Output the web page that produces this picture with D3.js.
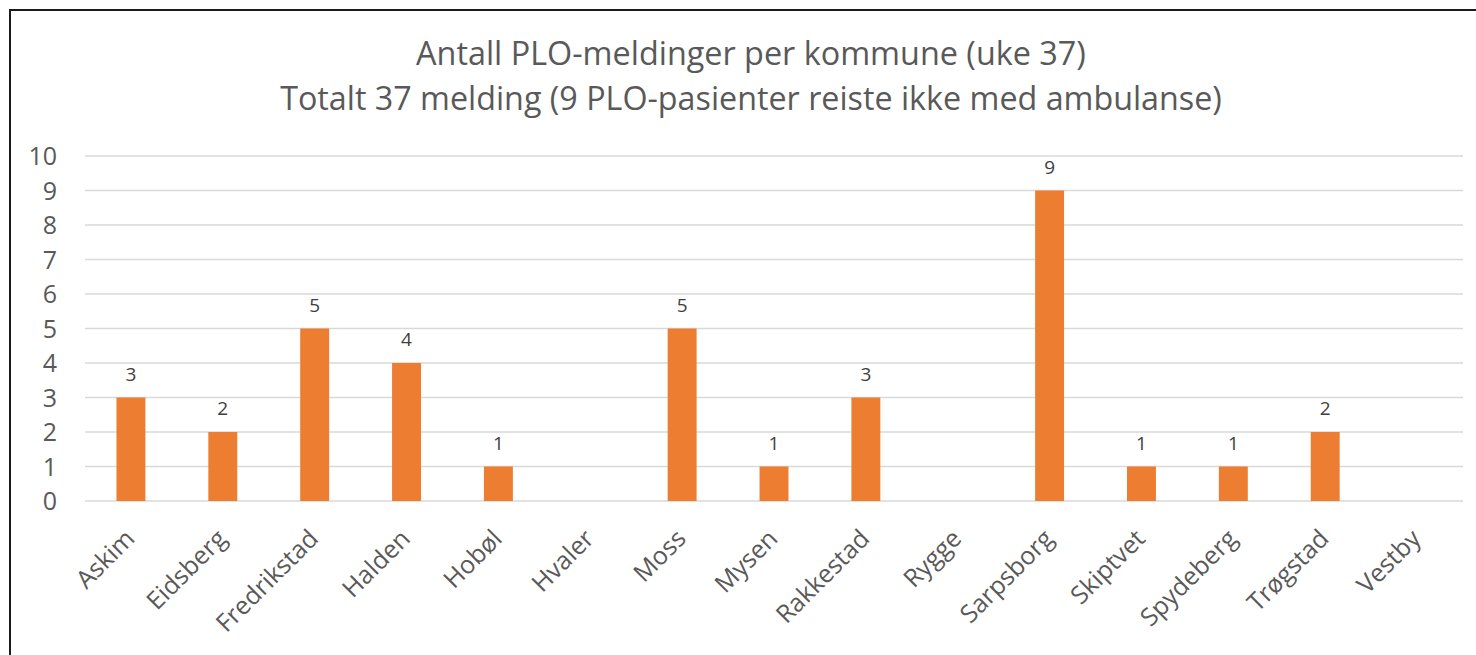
<!DOCTYPE html>
<html>
<head>
<meta charset="utf-8">
<script src="https://cdn.jsdelivr.net/npm/d3@7"></script>
<style>
  html, body { margin: 0; padding: 0; background: #fff; }
  svg { display: block; }
  text { font-family: "Open Sans", "Noto Sans", sans-serif; }
</style>
</head>
<body>
<svg id="chart" width="1476" height="655"></svg>
<script>
const categories = ["Askim","Eidsberg","Fredrikstad","Halden","Hobøl","Hvaler","Moss","Mysen","Rakkestad","Rygge","Sarpsborg","Skiptvet","Spydeberg","Trøgstad","Vestby"];
const values = [3,2,5,4,1,null,5,1,3,null,9,1,1,2,null];
const yTicks = [0,1,2,3,4,5,6,7,8,9,10];
const titleLines = ["Antall PLO-meldinger per kommune (uke 37)", "Totalt 37 melding (9 PLO-pasienter reiste ikke med ambulanse)"];

const svg = d3.select("#chart");

// chart frame (top and left edges visible)
svg.append("rect").attr("x", 10).attr("y", 10).attr("width", 1480).attr("height", 660)
  .attr("fill", "#fff").attr("stroke", "#1a1a1a").attr("stroke-width", 2);

const plotLeft = 85, plotRight = 1463, plotTop = 156, plotBottom = 501;

const x = d3.scaleBand().domain(categories).range([plotLeft, plotRight])
  .paddingInner(0.685).paddingOuter(0.3425);
const y = d3.scaleLinear().domain([0, 10]).range([plotBottom, plotTop]);

// title
const titleY = [65, 110];
const titleW = [670, 942];
titleLines.forEach((t, i) => {
  const el = svg.append("text").attr("x", 751).attr("y", titleY[i])
    .attr("text-anchor", "middle").attr("fill", "#595959")
    .style("font-size", "28px").text(t);
  const w = el.node().getComputedTextLength();
  el.style("font-size", (28 * titleW[i] / w).toFixed(2) + "px");
});

// gridlines
svg.append("g").selectAll("line").data(yTicks).join("line")
  .attr("x1", plotLeft).attr("x2", plotRight)
  .attr("y1", d => y(d)).attr("y2", d => y(d))
  .attr("stroke", "#d9d9d9").attr("stroke-width", 1.5);

// y axis labels
const yAxis = d3.axisLeft(y).tickValues(yTicks).tickSize(0).tickPadding(0).tickFormat(d3.format("d"));
const gy = svg.append("g").attr("transform", `translate(57,0)`).call(yAxis);
gy.select(".domain").remove();
gy.selectAll("text").attr("fill", "#595959").style("font-size", "25px")
  .style("font-family", '"Open Sans", sans-serif').attr("dy", "0.35em");

// bars
const data = categories.map((c, i) => ({c, v: values[i]}));
svg.append("g").selectAll("rect").data(data.filter(d => d.v != null)).join("rect")
  .attr("x", d => x(d.c)).attr("width", x.bandwidth())
  .attr("y", d => y(d.v)).attr("height", d => y(0) - y(d.v))
  .attr("fill", "#ED7D31");

// data labels
svg.append("g").selectAll("text").data(data.filter(d => d.v != null)).join("text")
  .attr("x", d => x(d.c) + x.bandwidth() / 2)
  .attr("y", d => y(d.v) - 17)
  .attr("text-anchor", "middle").attr("fill", "#404040")
  .style("font-size", "19px").text(d => d.v);

// x axis labels
const xAxis = d3.axisBottom(x).tickSize(0).tickPadding(0);
const gx = svg.append("g").attr("transform", `translate(0,${plotBottom})`).call(xAxis);
gx.select(".domain").remove();
gx.selectAll("text")
  .attr("fill", "#595959").style("font-size", "25px")
  .style("font-family", '"Open Sans", sans-serif')
  .attr("text-anchor", "end")
  .attr("y", 0).attr("dy", "0.35em")
  .attr("transform", "translate(-1,33) rotate(-45)");
</script>
</body>
</html>
